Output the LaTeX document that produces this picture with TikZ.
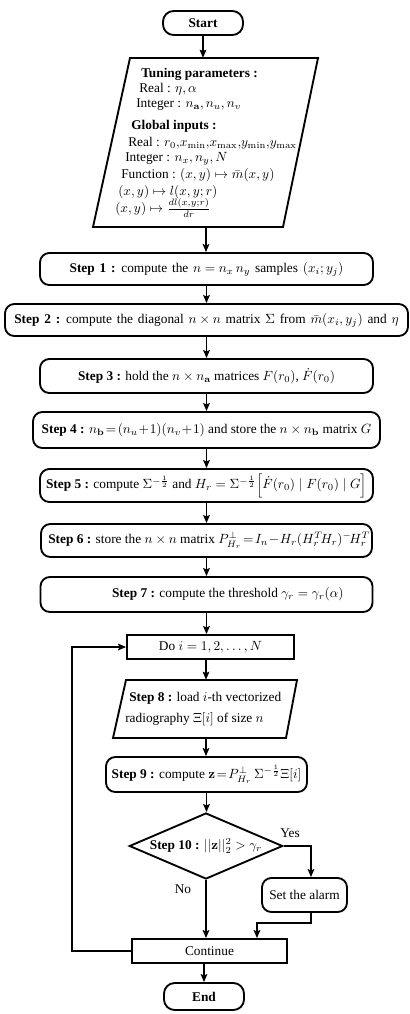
\documentclass[tikz,border=0pt]{standalone}
\usepackage[no-math]{fontspec}
\setmainfont{Liberation Serif}
\usetikzlibrary{shapes.geometric,arrows.meta,calc}
\begin{document}
\begin{tikzpicture}[x=0.75pt,y=-0.75pt,
  every node/.style={font=\fontsize{10pt}{12pt}\selectfont},
  shp/.style={draw,line width=1.4pt},
  pill/.style={shp,rounded corners=8pt,inner sep=0pt},
  stepbox/.style={shp,rounded corners=7pt,inner sep=0pt},
  plainbox/.style={shp,inner sep=0pt},
  arr/.style={line width=1.1pt,-{Stealth[length=6pt,width=5pt,inset=1pt]}},
  txt/.style={inner sep=0pt,anchor=west}]
\useasboundingbox (0,0) rectangle (410,1014);
% Start
\node[pill,minimum width=60pt,minimum height=18pt] (start) at (203,23) {\textbf{Start}};
% Parameters parallelogram
\node[inner sep=0pt,minimum width=10pt,minimum height=126.75pt] (params) at (206,142.5) {};
\draw[shp] (130,58) -- (318,58) -- (283,227) -- (93,227) -- cycle;
\node[txt] at (141,74) {\textbf{Tuning parameters :}};
\node[txt] at (139,89) {Real : $\eta,\alpha$};
\node[txt] at (136,105) {Integer : $n_{\mathbf{a}},n_u,n_v$};
\node[txt] at (131,126) {\textbf{Global inputs :}};
\node[txt] at (128,143) {Real : $r_0,\!x_{\min},\!x_{\max},\!y_{\min},\!y_{\max}$};
\node[txt] at (125,159) {Integer : $n_x,n_y,N$};
\node[txt] at (121,175) {Function : $(x,y)\mapsto \bar{m}(x,y)$};
\node[txt] at (118,192) {$(x,y)\mapsto l(x,y;r)$};
\node[txt] at (115,208) {$(x,y)\mapsto \frac{dl(x,y;r)}{dr}$};
% Steps
\node[stepbox,minimum width=249.75pt,minimum height=24pt] (s1) at (206.5,269) {\spaceskip=3.6pt\textbf{Step 1 :} compute the $n=n_x\,n_y$ samples $(x_i;y_j)$};
\node[stepbox,minimum width=302.25pt,minimum height=24pt] (s2) at (206.5,320) {\spaceskip=3.6pt\textbf{Step 2 :} compute the diagonal $n\times n$ matrix $\Sigma$ from $\bar{m}(x_i,y_j)$ and $\eta$};
\node[stepbox,minimum width=249.75pt,minimum height=25.5pt] (s3) at (206.5,376) {\textbf{Step 3 :} hold the $n\times n_{\mathbf{a}}$ matrices $F(r_0)$, $\dot{F}(r_0)$};
\node[stepbox,minimum width=260.25pt,minimum height=27pt] (s4) at (206.5,430) {\textbf{Step 4 :} $n_{\mathbf{b}}\!=\!(n_u\!+\!1)(n_v\!+\!1)$ and store the $n\times n_{\mathbf{b}}$ matrix $G$};
\node[stepbox,minimum width=249.75pt,minimum height=24.75pt] (s5) at (206.5,485.5) {\textbf{Step 5 :} compute $\Sigma^{-\frac12}$ and $H_r=\Sigma^{-\frac12}\Big[\dot{F}(r_0)\mid F(r_0)\mid G\Big]$};
\node[stepbox,minimum width=248.25pt,minimum height=24.75pt] (s6) at (206.5,540.5) {\hspace*{4pt}\textbf{Step 6 :} store the $n\times n$ matrix $P^{\perp}_{H_r}\!=\!I_n\!-\!H_r(H_r^T\!H_r)^{-}\!H_r^T$};
\node[stepbox,minimum width=249pt,minimum height=26.25pt] (s7) at (206.5,594.5) {\hspace*{32pt}\textbf{Step 7 :} compute the threshold $\gamma_r=\gamma_r(\alpha)$};
% Loop
\node[plainbox,minimum width=125.25pt,minimum height=18pt] (do) at (210.5,647) {Do $i=1,2,\ldots,N$};
\node[inner sep=0pt,minimum height=43.5pt,minimum width=10pt] (s8) at (206,709) {};
\draw[shp] (126,680) -- (297,680) -- (286,738) -- (113,738) -- cycle;
\node[txt] at (129,698) {\textbf{Step 8 :} load $i$-th vectorized};
\node[txt] at (125,719) {radiography $\Xi[i]$ of size $n$};
\node[stepbox,minimum width=150.75pt,minimum height=26.25pt] (s9) at (206.5,774.5) {\textbf{Step 9 :} compute $\mathbf{z}\!=\!P^{\perp}_{H_r}\,\Sigma^{-\frac12}\Xi[i]$};
\node[shp,diamond,aspect=2.3,inner sep=0pt,minimum width=115pt,minimum height=49.5pt] (dec) at (206,846) {\textbf{Step 10 :} $||\mathbf{z}||_2^2>\gamma_r$};
\node[stepbox,minimum width=63.75pt,minimum height=25.5pt] (alarm) at (304.5,895) {Set the alarm};
\node[plainbox,minimum width=116.25pt,minimum height=18pt] (cont) at (209.5,951) {Continue};
\node[pill,minimum width=60pt,minimum height=20.25pt] (end) at (204,996.5) {\textbf{End}};
% Labels
\node at (290,833) {Yes};
\node at (183,889) {No};
% Connectors
\draw[arr] (start.south) -- (start.south |- params.north);
\draw[arr] (params.south) -- (params.south |- s1.north);
\draw[arr] (s1.south) -- (s2.north);
\draw[arr] (s2.south) -- (s3.north);
\draw[arr] (s3.south) -- (s4.north);
\draw[arr] (s4.south) -- (s5.north);
\draw[arr] (s5.south) -- (s6.north);
\draw[arr] (s6.south) -- (s7.north);
\draw[arr] (s7.south) -- (s7.south |- do.north);
\draw[arr] (s8.north |- do.south) -- (s8.north);
\draw[arr] (s8.south) -- (s8.south |- s9.north);
\draw[arr] (s9.south) -- (s9.south |- dec.north);
\draw[arr] (dec.east) -| ([xshift=4.875pt]alarm.north);
\draw[arr] ([xshift=4.875pt]alarm.south) -- ++(0,10) -| ([xshift=35.6pt]cont.north);
\draw[arr] (dec.south) -- (dec.south |- cont.north);
\draw[arr] (cont.west) -- ++(-59,0) |- (do.west);
\draw[arr] (end.north |- cont.south) -- (end.north);
\end{tikzpicture}
\end{document}
